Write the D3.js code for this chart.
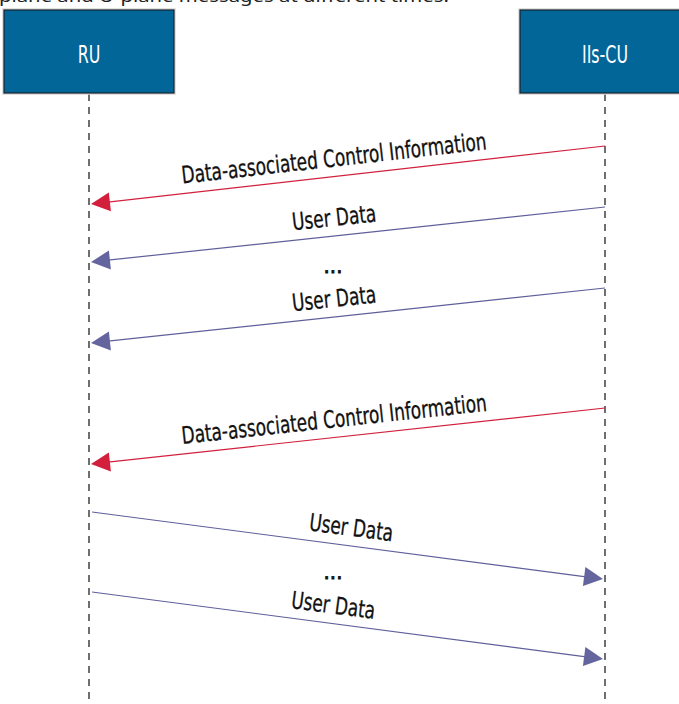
<!DOCTYPE html>
<html>
<head>
<meta charset="utf-8">
<script src="https://cdn.jsdelivr.net/npm/d3@7"></script>
<style>
  html, body { margin: 0; padding: 0; background: #fff; overflow: hidden; }
  svg { display: block; }
</style>
</head>
<body>
<script>
// ---- data ----
const caption = "plane and U-plane messages at different times.";
const lifelines = ["RU", "IIs-CU"];
const msgFrom   = ["IIs-CU", "IIs-CU", "IIs-CU", "IIs-CU", "RU", "RU"];
const msgTo     = ["RU", "RU", "RU", "RU", "IIs-CU", "IIs-CU"];
const msgLabels = ["Data-associated Control Information", "User Data", "User Data",
                   "Data-associated Control Information", "User Data", "User Data"];
const msgKinds  = ["control", "data", "data", "control", "data", "data"];
const sendTimes = [146, 207, 288, 408, 512, 592];
const recvTimes = [204, 262, 343, 464, 579, 659];
const gapTimes  = [273, 579];   // "..." markers (baseline time)

// ---- setup ----
const W = 679, H = 704;
const svg = d3.select("body").append("svg").attr("width", W).attr("height", H);

const x = d3.scalePoint().domain(lifelines).range([89, 605]);
const y = d3.scaleLinear().domain([0, 704]).range([0, 704]);

const colors = { control: "#d2203c", data: "#5f5f9c" };
const headColors = { control: "#d21f3b", data: "#64649e" };
const condFont = "'Liberation Sans Narrow', 'DejaVu Sans Condensed', 'Roboto', sans-serif";

// measurement helper
function measure(str, size, family) {
  const t = svg.append("text").attr("font-size", size).attr("font-family", family).text(str);
  const w = t.node().getComputedTextLength();
  t.remove();
  return w;
}
const capFont = "'Noto Sans', 'Open Sans', sans-serif";
const capScale = 450 / measure(caption, 17, capFont);
const labelScale = 307 / measure(msgLabels[0], 24, condFont);
const boxScale = 46 / measure("IIs-CU", 24, condFont);

// caption (cut at top)
svg.append("text")
  .attr("transform", `translate(-1,2) scale(${capScale},1)`)
  .attr("font-family", capFont)
  .attr("font-size", 17)
  .attr("fill", "#222")
  .text(caption);

// lifelines
svg.selectAll("line.life").data(lifelines).join("line")
  .attr("class", "life")
  .attr("x1", d => x(d)).attr("x2", d => x(d))
  .attr("y1", y(94)).attr("y2", y(699))
  .attr("stroke", "#222").attr("stroke-width", 1.3)
  .attr("stroke-dasharray", "7,6");

// header boxes
const boxW = 170, boxTop = 10, boxBot = 93;
const boxes = svg.selectAll("g.box").data(lifelines).join("g").attr("class", "box");
boxes.append("rect")
  .attr("x", d => x(d) - boxW / 2 - 1).attr("y", boxTop - 1)
  .attr("width", boxW + 2).attr("height", boxBot - boxTop + 2)
  .attr("fill", "none").attr("stroke", "#d8d8d8").attr("stroke-width", 1.5);
boxes.append("rect")
  .attr("x", d => x(d) - boxW / 2).attr("y", boxTop)
  .attr("width", boxW).attr("height", boxBot - boxTop)
  .attr("fill", "#036699").attr("stroke", "#16222c").attr("stroke-width", 1.2);
boxes.append("text")
  .attr("transform", d => `translate(${x(d)},${63}) scale(${boxScale},1)`)
  .attr("text-anchor", "middle")
  .attr("font-family", condFont).attr("font-size", 24)
  .attr("fill", "#fff")
  .text(d => d);

// messages
const msgs = msgLabels.map((label, i) => ({
  label, kind: msgKinds[i], from: msgFrom[i], to: msgTo[i],
  t0: sendTimes[i], t1: recvTimes[i]
}));

const headLen = 19, headHalf = 9.5;
const g = svg.selectAll("g.msg").data(msgs).join("g").attr("class", "msg");

g.each(function (d) {
  const sel = d3.select(this);
  const dir = x(d.to) > x(d.from) ? 1 : -1;
  const xs = x(d.from) + (dir > 0 ? 3 : 0);
  const ys = y(d.t0);
  const xt = x(d.to) - dir * 2;
  const yt = y(d.t1);
  const dx = xt - xs, dy = yt - ys;
  const len = Math.hypot(dx, dy);
  const ux = dx / len, uy = dy / len;
  const bx = xt - ux * headLen, by = yt - uy * headLen;
  sel.append("line")
    .attr("x1", xs).attr("y1", ys).attr("x2", bx + ux * 2).attr("y2", by + uy * 2)
    .attr("stroke", colors[d.kind]).attr("stroke-width", 1.2);
  const px = -uy, py = ux;
  sel.append("path")
    .attr("d", `M${xt},${yt}L${bx + px * headHalf},${by + py * headHalf}L${bx - px * headHalf},${by - py * headHalf}Z`)
    .attr("fill", headColors[d.kind]);

  // label
  const xl = Math.min(xs, xt), xr = Math.max(xs, xt);
  const yl = xs < xt ? ys : yt, yr = xs < xt ? yt : ys;
  const ang = Math.atan2(yr - yl, xr - xl) * 180 / Math.PI;
  const cx = dir < 0 ? 336 : (d.t0 < 550 ? 349 : 331);
  const cy = yl + (cx - xl) / (xr - xl) * (yr - yl);
  sel.append("text")
    .attr("transform", `translate(${cx},${cy}) rotate(${ang}) scale(${labelScale},1)`)
    .attr("y", -10)
    .attr("text-anchor", "middle")
    .attr("font-family", condFont).attr("font-size", 24)
    .attr("fill", "#111")
    .attr("stroke", "#111").attr("stroke-width", 0.3)
    .text(d.label);
});

// ellipses
svg.selectAll("text.gap").data(gapTimes).join("text")
  .attr("class", "gap")
  .attr("x", 333).attr("y", d => y(d))
  .attr("text-anchor", "middle")
  .attr("font-family", condFont).attr("font-size", 22)
  .attr("fill", "#111")
  .attr("stroke", "#111").attr("stroke-width", 0.8)
  .text("...");
</script>
</body>
</html>
